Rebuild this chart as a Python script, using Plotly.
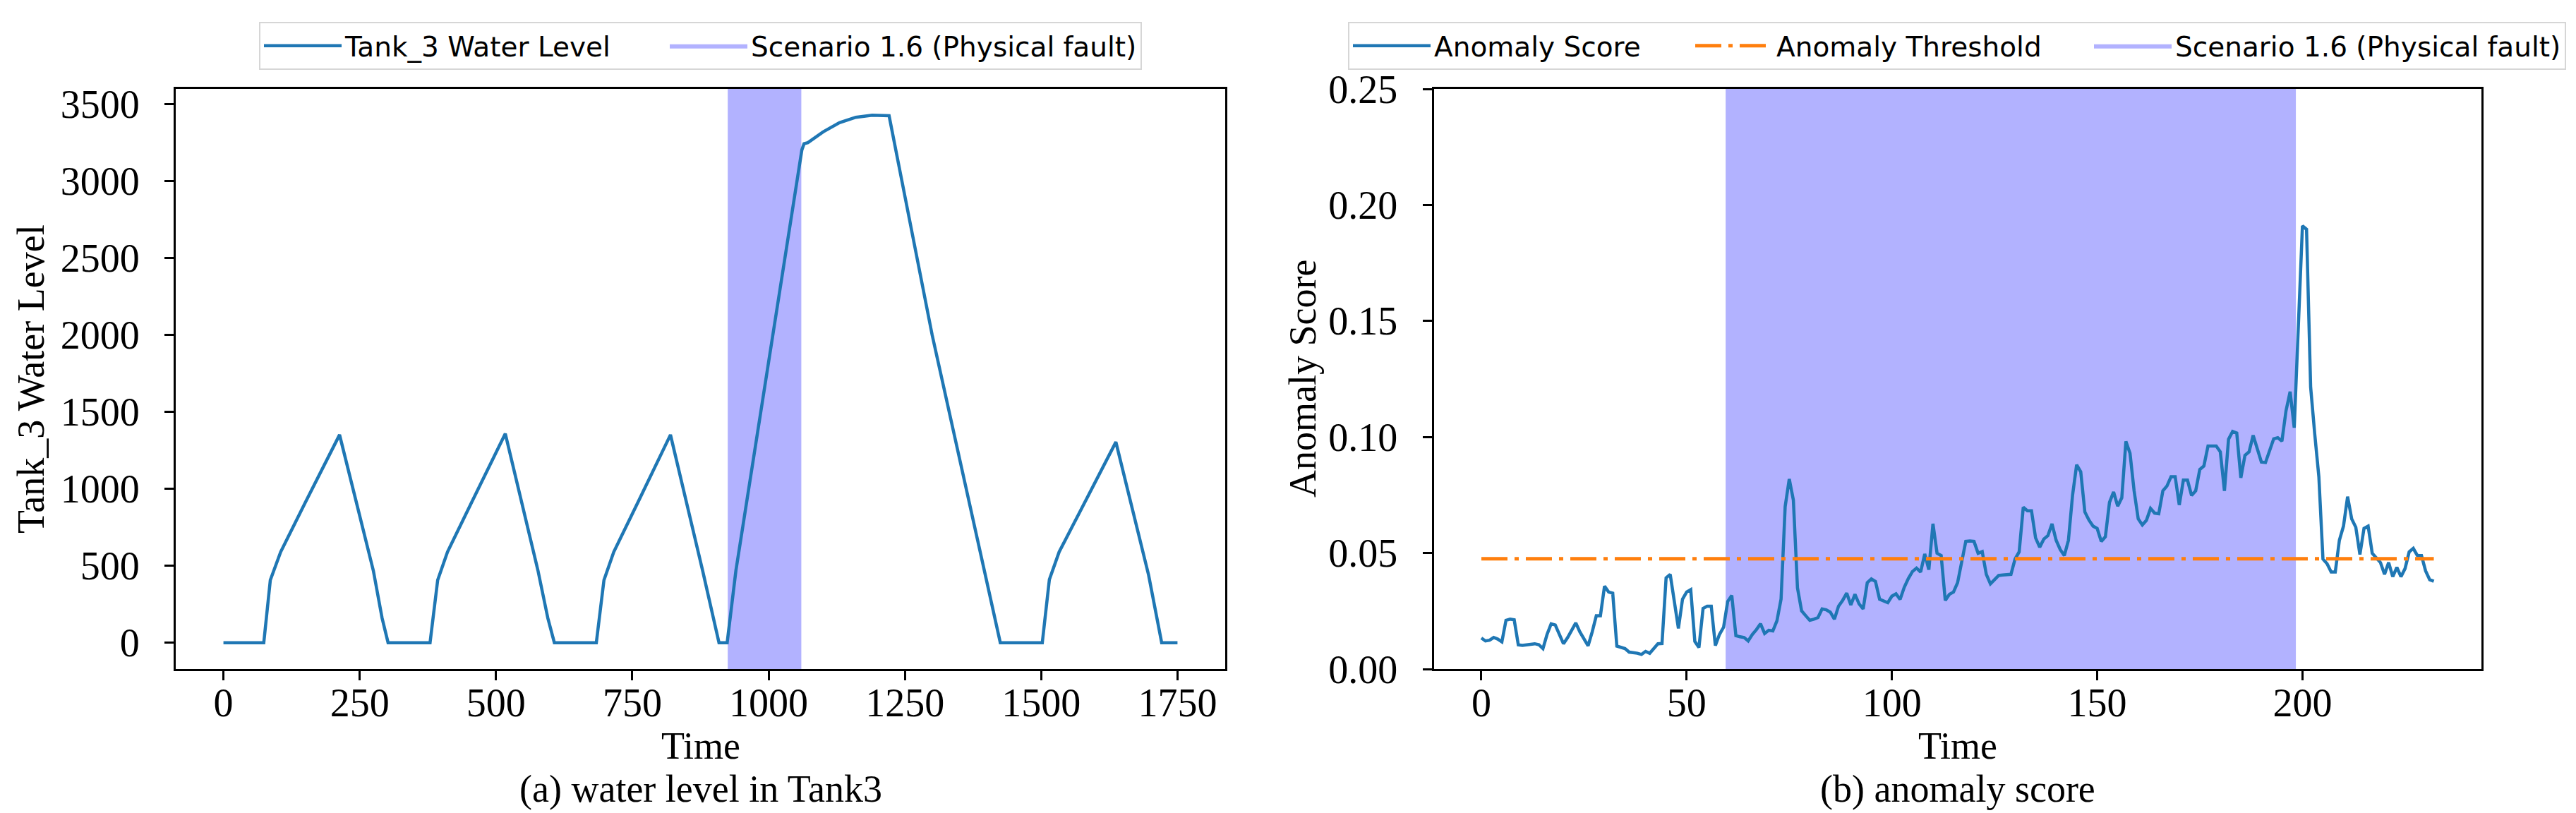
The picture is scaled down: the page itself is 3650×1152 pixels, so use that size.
import plotly.graph_objects as go

# (a) Tank_3 water level: breakpoints of the level trace
tank_time = [0, 74, 86, 105, 150, 213, 275, 291, 302,
             379, 393, 411, 455, 517, 577, 595, 607,
             684, 698, 716, 760, 820, 879, 899, 909,
             924, 940, 1061, 1065, 1072, 1100, 1130, 1160, 1190, 1221,
             1300, 1410, 1425,
             1502, 1515, 1533, 1578, 1637, 1697, 1712, 1721, 1750]
tank_level = [0, 0, 407, 590, 910, 1351, 468, 160, 0,
              0, 407, 590, 910, 1358, 468, 160, 0,
              0, 407, 590, 910, 1351, 468, 160, 0,
              0, 468, 3203, 3243, 3250, 3320, 3380, 3415, 3428, 3425,
              2000, 260, 0,
              0, 410, 590, 900, 1304, 440, 160, 0, 0]
tank_fault = (925, 1060)

# (b) anomaly score, one value per time step
anomaly_score = [
    0.0134, 0.0121, 0.0124, 0.0136, 0.0129, 0.0117, 0.0210, 0.0215, 0.0212, 0.0104,
    0.0102, 0.0105, 0.0109, 0.0109, 0.0105, 0.0088, 0.0149, 0.0195, 0.0190, 0.0150,
    0.0109, 0.0135, 0.0165, 0.0199, 0.0160, 0.0130, 0.0100, 0.0160, 0.0230, 0.0230,
    0.0357, 0.0332, 0.0327, 0.0099, 0.0095, 0.0088, 0.0073, 0.0072, 0.0068, 0.0063,
    0.0076, 0.0068, 0.0088, 0.0109, 0.0110, 0.0393, 0.0408, 0.0301, 0.0175, 0.0301,
    0.0332, 0.0342, 0.0119, 0.0093, 0.0261, 0.0271, 0.0271, 0.0101, 0.0149, 0.0180,
    0.0291, 0.0317, 0.0144, 0.0139, 0.0136, 0.0121, 0.0149, 0.0170, 0.0195, 0.0153,
    0.0167, 0.0164, 0.0208, 0.0301, 0.0700, 0.0819, 0.0728, 0.0350, 0.0251, 0.0230,
    0.0210, 0.0215, 0.0222, 0.0259, 0.0255, 0.0245, 0.0215, 0.0271, 0.0296, 0.0327,
    0.0276, 0.0322, 0.0281, 0.0259, 0.0372, 0.0388, 0.0377, 0.0301, 0.0293, 0.0286,
    0.0314, 0.0324, 0.0300, 0.0352, 0.0390, 0.0420, 0.0435, 0.0418, 0.0496, 0.0428,
    0.0626, 0.0499, 0.0489, 0.0296, 0.0322, 0.0332, 0.0372, 0.0454, 0.0550, 0.0552,
    0.0550, 0.0499, 0.0506, 0.0408, 0.0367, 0.0385, 0.0403, 0.0405, 0.0406, 0.0408,
    0.0474, 0.0505, 0.0697, 0.0682, 0.0682, 0.0565, 0.0525, 0.0560, 0.0575, 0.0626,
    0.0555, 0.0515, 0.0489, 0.0555, 0.0748, 0.0880, 0.0850, 0.0677, 0.0642, 0.0616,
    0.0606, 0.0550, 0.0570, 0.0718, 0.0763, 0.0702, 0.0738, 0.0981, 0.0930, 0.0768,
    0.0647, 0.0621, 0.0641, 0.0692, 0.0672, 0.0669, 0.0768, 0.0789, 0.0829, 0.0829,
    0.0707, 0.0814, 0.0814, 0.0748, 0.0768, 0.0860, 0.0875, 0.0961, 0.0961, 0.0961,
    0.0936, 0.0768, 0.0990, 0.1024, 0.1017, 0.0824, 0.0921, 0.0936, 0.1007, 0.0951,
    0.0892, 0.0890, 0.0941, 0.0992, 0.0997, 0.0982, 0.1113, 0.1195, 0.1040, 0.1500,
    0.1910, 0.1895, 0.1215, 0.1012, 0.0829, 0.0474, 0.0454, 0.0418, 0.0418, 0.0555,
    0.0616, 0.0743, 0.0647, 0.0611, 0.0494, 0.0606, 0.0616, 0.0499, 0.0479, 0.0459,
    0.0408, 0.0459, 0.0398, 0.0438, 0.0398, 0.0433, 0.0505, 0.0520, 0.0489, 0.0489,
    0.0423, 0.0385, 0.0378,
]
score_time = list(range(len(anomaly_score)))
anomaly_threshold = 0.0475
score_fault = (59.5, 198.4)

BLUE = "#1f77b4"
ORANGE = "#ff7f0e"
SPAN = "rgba(0,0,255,0.3)"
SERIF = "Liberation Serif"
SANS = "DejaVu Sans"
W, H = 3650, 1152
ML, MR, MT, MB = 241, 142, 118, 212
PW, PH = W - ML - MR, H - MT - MB


def px_x(px):
    # ピクセル位置 -> paper座標
    return (px - ML) / PW


def px_y(py):
    return (H - MB - py) / PH


def padded(lo, hi, frac=0.05):
    d = (hi - lo) * frac
    return [lo - d, hi + d]


tank_xr = padded(min(tank_time), max(tank_time))
tank_yr = padded(min(tank_level), max(tank_level))
score_xr = padded(score_time[0], score_time[-1])
score_yr = [0, 0.25]

fig = go.Figure()

# 故障区間（塗りつぶし）
fig.add_trace(go.Scatter(
    x=[tank_fault[0], tank_fault[1], tank_fault[1], tank_fault[0], tank_fault[0]],
    y=[tank_yr[0], tank_yr[0], tank_yr[1], tank_yr[1], tank_yr[0]],
    mode="lines", fill="toself", fillcolor=SPAN, line=dict(width=0, color=SPAN),
    name="Scenario 1.6 (Physical fault)", xaxis="x", yaxis="y",
    legend="legend", legendrank=2, hoverinfo="skip",
))
fig.add_trace(go.Scatter(
    x=tank_time, y=tank_level, mode="lines", line=dict(color=BLUE, width=4.5),
    name="Tank_3 Water Level", xaxis="x", yaxis="y",
    legend="legend", legendrank=1, legendwidth=450,
))

fig.add_trace(go.Scatter(
    x=[score_fault[0], score_fault[1], score_fault[1], score_fault[0], score_fault[0]],
    y=[score_yr[0], score_yr[0], score_yr[1], score_yr[1], score_yr[0]],
    mode="lines", fill="toself", fillcolor=SPAN, line=dict(width=0, color=SPAN),
    name="Scenario 1.6 (Physical fault)", xaxis="x2", yaxis="y2",
    legend="legend2", legendrank=3, hoverinfo="skip",
))
fig.add_trace(go.Scatter(
    x=score_time, y=anomaly_score, mode="lines", line=dict(color=BLUE, width=4.5),
    name="Anomaly Score", xaxis="x2", yaxis="y2",
    legend="legend2", legendrank=1, legendwidth=360,
))
fig.add_trace(go.Scatter(
    x=[score_time[0], score_time[-1]], y=[anomaly_threshold, anomaly_threshold],
    mode="lines", line=dict(color=ORANGE, width=5, dash="37px,10px,6px,10px"),
    name="Anomaly Threshold", xaxis="x2", yaxis="y2",
    legend="legend2", legendrank=2, legendwidth=440,
))

ax_common = dict(
    showline=True, mirror=True, linecolor="black", linewidth=3,
    ticks="outside", ticklen=13, tickwidth=3, tickcolor="black",
    showgrid=False, zeroline=False, automargin=False,
    tickfont=dict(family=SERIF, size=56, color="black"),
)
legend_common = dict(
    y=px_y(23), xanchor="left", yanchor="top",
    orientation="h", bgcolor="white", bordercolor="#d6d6d6", borderwidth=2,
    font=dict(family=SANS, size=39, color="black"), itemwidth=110,
)

fig.update_layout(
    width=W, height=H, autosize=False,
    margin=dict(l=ML, r=MR, t=MT, b=MB, autoexpand=False),
    paper_bgcolor="white", plot_bgcolor="white",
    xaxis=dict(domain=[0, px_x(1728)], range=tank_xr, anchor="y", ticklabelstandoff=-16,
               tickvals=[0, 250, 500, 750, 1000, 1250, 1500, 1750], **ax_common),
    yaxis=dict(domain=[0, 1], range=tank_yr, anchor="x", ticklabelstandoff=24,
               tickvals=[0, 500, 1000, 1500, 2000, 2500, 3000, 3500], **ax_common),
    xaxis2=dict(domain=[px_x(2023.5), 1], range=score_xr, anchor="y2", ticklabelstandoff=-16,
                tickvals=[0, 50, 100, 150, 200], **ax_common),
    yaxis2=dict(domain=[0, 1], range=score_yr, anchor="x2", ticklabelstandoff=24,
                tickvals=[0, 0.05, 0.10, 0.15, 0.20, 0.25], tickformat=".2f", **ax_common),
    legend=dict(x=px_x(359), **legend_common),
    legend2=dict(x=px_x(1902), **legend_common),
    showlegend=True,
)

# 軸タイトルとキャプション
label_font = dict(family=SERIF, size=54, color="black")
for xc, cap in [(984.5, "(a) water level in Tank3"), (2765.75, "(b) anomaly score")]:
    fig.add_annotation(text="Time", x=px_x(xc), y=px_y(1049), xref="paper", yref="paper",
                       showarrow=False, xanchor="center", yanchor="middle", font=label_font)
    fig.add_annotation(text=cap, x=px_x(xc), y=px_y(1110), xref="paper", yref="paper",
                       showarrow=False, xanchor="center", yanchor="middle", font=label_font)
for xc, ttl in [(36, "Tank_3 Water Level"), (1838, "Anomaly Score")]:
    fig.add_annotation(text=ttl, x=px_x(xc), y=px_y(529), xref="paper", yref="paper",
                       showarrow=False, xanchor="center", yanchor="middle",
                       textangle=-90, font=label_font)

fig.write_html("out.html")
